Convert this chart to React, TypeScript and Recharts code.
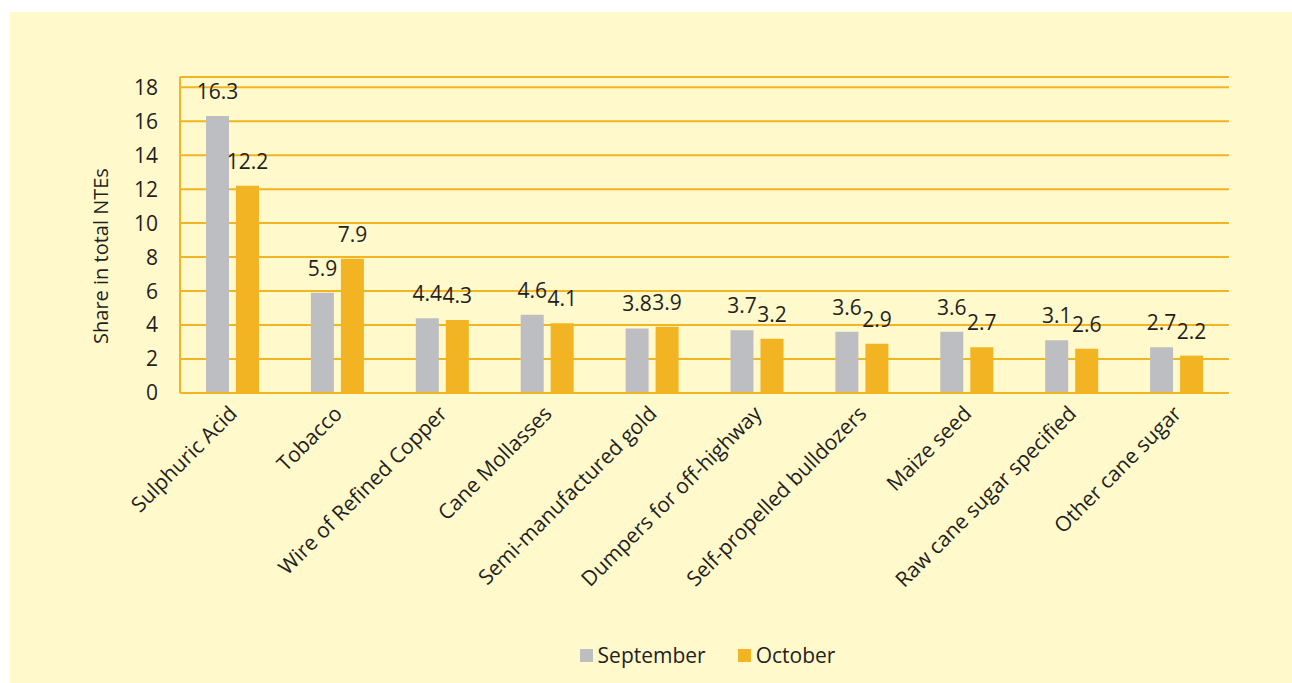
import React from "react";
import {
  Bar,
  BarChart,
  CartesianGrid,
  LabelList,
  Legend,
  XAxis,
  YAxis,
} from "recharts";

const products = [
  "Sulphuric Acid",
  "Tobacco",
  "Wire of Refined Copper",
  "Cane Mollasses",
  "Semi-manufactured gold",
  "Dumpers for off-highway",
  "Self-propelled bulldozers",
  "Maize seed",
  "Raw cane sugar specified",
  "Other cane sugar",
];
const september = [16.3, 5.9, 4.4, 4.6, 3.8, 3.7, 3.6, 3.6, 3.1, 2.7];
const october = [12.2, 7.9, 4.3, 4.1, 3.9, 3.2, 2.9, 2.7, 2.6, 2.2];
const yTicks = [0, 2, 4, 6, 8, 10, 12, 14, 16, 18];

const data = products.map((name, i) => ({
  name,
  september: september[i],
  october: october[i],
}));

const GOLD = "#F2B422";
const GREY = "#BDBEC1";
const PANEL = "#FFF9CC";
const INK = "#231F20";
const FONT = "'Open Sans', 'Noto Sans', sans-serif";
const FS = 21;

const AngledTick = (props: any) => {
  const { x, y, payload } = props;
  return (
    <g transform={`translate(${x},${y})`}>
      <text
        x={6}
        y={22}
        transform="rotate(-45 6 22)"
        textAnchor="end"
        fill={INK}
        fontSize={FS}
        fontFamily={FONT}
      >
        {payload.value}
      </text>
    </g>
  );
};

const LegendBox = () => (
  <div
    style={{
      display: "flex",
      justifyContent: "center",
      alignItems: "center",
      fontFamily: FONT,
      fontSize: FS,
      color: INK,
      lineHeight: "24px",
    }}
  >
    {[
      { label: "September", color: GREY },
      { label: "October", color: GOLD },
    ].map((item, i) => (
      <div
        key={item.label}
        style={{ display: "flex", alignItems: "center", marginLeft: i ? 32 : 0 }}
      >
        <span
          style={{
            width: 13,
            height: 13,
            background: item.color,
            marginRight: 5,
            display: "inline-block",
          }}
        />
        <span>{item.label}</span>
      </div>
    ))}
  </div>
);

export default function App() {
  return (
    <div
      style={{
        position: "absolute",
        left: 0,
        top: 0,
        width: 1292,
        height: 683,
        background: "#fff",
        overflow: "hidden",
      }}
    >
      <div
        style={{
          position: "absolute",
          left: 10,
          top: 12,
          width: 1282,
          height: 671,
          background: PANEL,
        }}
      >
        <BarChart
          width={1282}
          height={671}
          data={data}
          margin={{ top: 65, right: 63, left: 0, bottom: 0 }}
          barSize={23}
          barGap={7}
          style={{ fontFamily: FONT }}
        >
          <CartesianGrid vertical={false} stroke={GOLD} strokeWidth={2} />
          <XAxis
            dataKey="name"
            interval={0}
            height={290}
            tickLine={false}
            tickSize={0}
            tickMargin={0}
            axisLine={{ stroke: GOLD, strokeWidth: 2 }}
            tick={<AngledTick />}
          />
          <YAxis
            width={170}
            domain={[0, 18.6]}
            ticks={yTicks}
            tickLine={false}
            tickSize={0}
            tickMargin={22}
            axisLine={{ stroke: GOLD, strokeWidth: 2 }}
            tick={{ fill: INK, fontSize: FS, fontFamily: FONT }}
            label={{
              value: "Share in total NTEs",
              angle: -90,
              position: "insideLeft",
              offset: 91,
              dy: 21,
              fill: INK,
              fontSize: FS - 1,
              fontFamily: FONT,
              style: { textAnchor: "middle" },
            }}
          />
          <Legend
            layout="horizontal"
            verticalAlign="middle"
            align="center"
            content={<LegendBox />}
            wrapperStyle={{ top: 631, left: 173, width: 1049 }}
          />
          <Bar dataKey="september" name="September" fill={GREY} isAnimationActive={false}>
            <LabelList
              dataKey="september"
              position="top"
              offset={17}
              fill={INK}
              fontSize={FS}
              fontFamily={FONT}
            />
          </Bar>
          <Bar dataKey="october" name="October" fill={GOLD} isAnimationActive={false}>
            <LabelList
              dataKey="october"
              position="top"
              offset={17}
              fill={INK}
              fontSize={FS}
              fontFamily={FONT}
            />
          </Bar>
        </BarChart>
      </div>
    </div>
  );
}
